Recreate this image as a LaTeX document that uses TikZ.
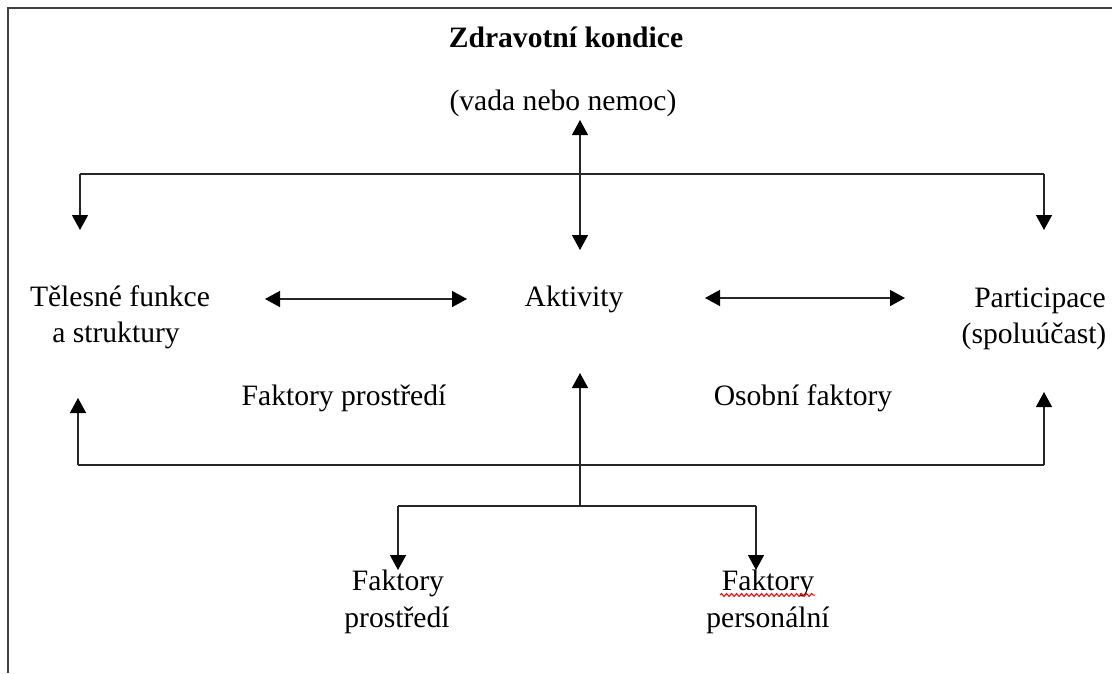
\documentclass[tikz,border=0pt]{standalone}
\usepackage{fontspec}
\setmainfont{Liberation Serif}
\usetikzlibrary{arrows.meta,decorations.pathmorphing}
\begin{document}
\begin{tikzpicture}[x=1pt,y=-1pt,
  lbl/.style={anchor=base,inner sep=0pt,font=\fontsize{29.6}{35}\selectfont},
  conn/.style={line width=1.4pt,draw=black!85},
  arr/.style={conn,-{Triangle[width=16pt,length=15pt,color=black]}},
  darr/.style={conn,{Triangle[width=16pt,length=15pt,color=black]}-{Triangle[width=16pt,length=15pt,color=black]}},
  frame/.style={line width=2pt,draw=black!75}]
\useasboundingbox (0,0) rectangle (1112,673);
\draw[frame] (8,673) -- (8,8) -- (1112,8);
% texts
\node[lbl,font=\fontsize{29.6}{35}\selectfont\bfseries] (title) at (566,47) {Zdravotní kondice};
\node[lbl] (cond) at (563,110) {(vada nebo nemoc)};
\node[lbl] (body1) at (120,306) {Tělesné funkce};
\node[lbl] (body2) at (116,342) {a struktury};
\node[lbl] (akt) at (574,306) {Aktivity};
\node[lbl] (part1) at (1040,307) {Participace};
\node[lbl] (part2) at (1034,343) {(spoluúčast)};
\node[lbl] (fenv) at (344,405) {Faktory prostředí};
\node[lbl] (fos) at (803,405) {Osobní faktory};
\node[lbl] (fp1) at (398,590) {Faktory};
\node[lbl] (fp2) at (397,627) {prostředí};
\node[lbl] (fper1) at (768,590) {Faktory};
\node[lbl] (fper2) at (768,627) {personální};
% coordinates
\coordinate (cTop) at (580,120);
\coordinate (cBot) at (580,250);
\coordinate (tl) at (80,174);
\coordinate (tr) at (1044,174);
\coordinate (tlE) at (80,230);
\coordinate (trE) at (1044,230);
\coordinate (l1) at (265,299);
\coordinate (l2) at (467,299);
\coordinate (r1) at (705,298);
\coordinate (r2) at (905,298);
\coordinate (mB) at (580,506);
\coordinate (mT) at (580,373);
\coordinate (bl) at (78,465);
\coordinate (br) at (1044,465);
\coordinate (blE) at (78,398);
\coordinate (brE) at (1044,392);
\coordinate (sl) at (398,506);
\coordinate (sr) at (756,506);
\coordinate (slE) at (398,570);
\coordinate (srE) at (756,570);
% connectors
\draw[darr] (cTop) -- (cBot);
\draw[conn] (tl) -- (tr);
\draw[arr] (tl) -- (tlE);
\draw[arr] (tr) -- (trE);
\draw[darr] (l1) -- (l2);
\draw[darr] (r1) -- (r2);
\draw[arr] (mB) -- (mT);
\draw[conn] (bl) -- (br);
\draw[arr] (bl) -- (blE);
\draw[arr] (br) -- (brE);
\draw[conn] (sl) -- (sr);
\draw[arr] (sl) -- (slE);
\draw[arr] (sr) -- (srE);
% spell-check underline
\draw[red,line width=1pt,decorate,decoration={snake,amplitude=1.5pt,segment length=5pt}] (720,595) -- (815,595);
\end{tikzpicture}
\end{document}
